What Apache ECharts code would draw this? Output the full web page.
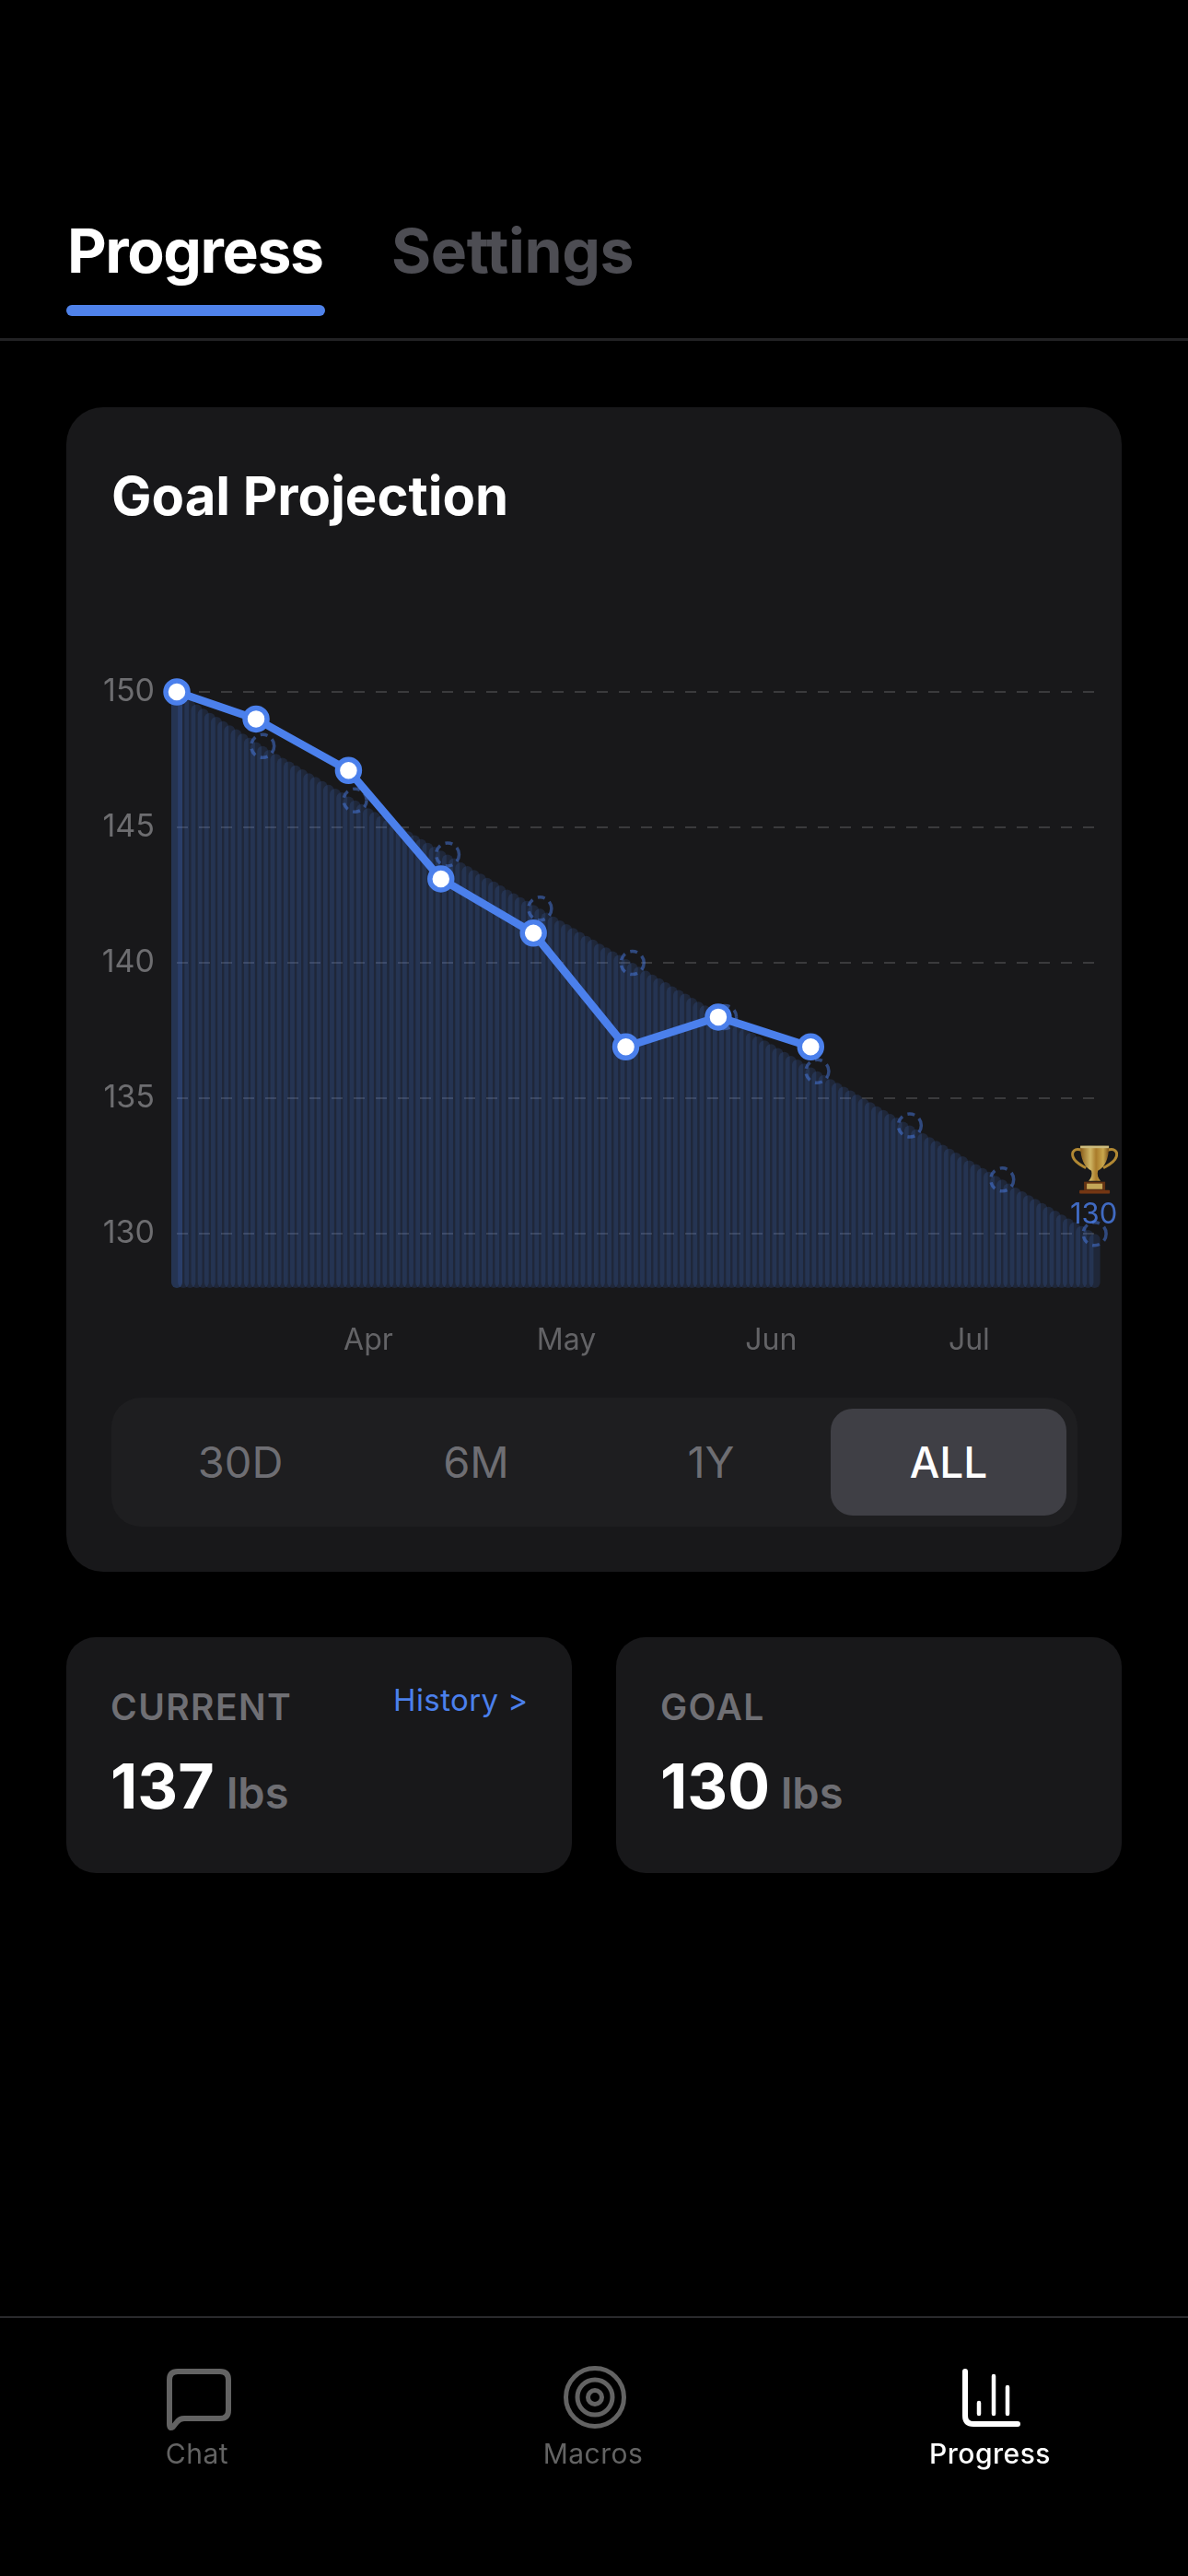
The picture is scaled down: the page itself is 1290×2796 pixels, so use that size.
<!DOCTYPE html>
<html>
<head>
<meta charset="utf-8">
<title>Goal Projection</title>
<script src="https://cdn.jsdelivr.net/npm/echarts@6/dist/echarts.min.js"></script>
<style>
    html, body { margin: 0; padding: 0; background: #000; }
    body { position: relative; width: 1290px; height: 2796px; overflow: hidden; font-family: Inter, "Noto Sans", sans-serif; }
    .box { position: absolute; }
    .t { position: absolute; line-height: 1; white-space: nowrap; }
    .c { transform: translateX(-50%); }
    svg { position: absolute; left: 0; top: 0; }
</style>
</head>
<body>
<!-- top tabs -->
<div class="t" style="left:73px;top:239px;font-size:66px;font-weight:700;color:#fff;letter-spacing:-1.4px">Progress</div>
<div class="t" style="left:425px;top:239px;font-size:66px;font-weight:700;color:#4d4d53;letter-spacing:-.4px">Settings</div>
<div class="box" style="left:72px;top:331px;width:281px;height:12px;border-radius:6px;background:#4f82ea"></div>
<div class="box" style="left:0;top:367px;width:1290px;height:3px;background:#222224"></div>

<!-- main card -->
<div class="box" style="left:72px;top:442px;width:1146px;height:1264px;border-radius:40px;background:#18181a"></div>
<div id="chart" class="box" style="left:72px;top:442px;width:1146px;height:1060px"></div>

<!-- range selector -->
<div class="box" style="left:121px;top:1517px;width:1049px;height:140px;border-radius:32px;background:#1e1e20"></div>
<div class="box" style="left:902px;top:1529px;width:256px;height:116px;border-radius:24px;background:#3f3f45"></div>
<div class="t c" style="left:261px;top:1563px;font-size:47px;color:#6e6e73">30D</div>
<div class="t c" style="left:517px;top:1563px;font-size:47px;color:#6e6e73">6M</div>
<div class="t c" style="left:772px;top:1563px;font-size:47px;color:#6e6e73">1Y</div>
<div class="t c" style="left:1030px;top:1564px;font-size:46px;font-weight:500;color:#fff">ALL</div>

<!-- stat cards -->
<div class="box" style="left:72px;top:1777px;width:549px;height:256px;border-radius:32px;background:#18181a"></div>
<div class="box" style="left:669px;top:1777px;width:549px;height:256px;border-radius:32px;background:#18181a"></div>
<div class="t" style="left:120px;top:1833px;font-size:39px;font-weight:600;color:#6f6f74;letter-spacing:1.4px">CURRENT</div>
<div class="t" style="left:427px;top:1829px;font-size:33px;color:#4b80ec;letter-spacing:.4px">History &gt;</div>
<div class="t" style="left:120px;top:1904px;font-size:68px;font-weight:700;color:#fff">137</div>
<div class="t" style="left:246px;top:1922px;font-size:47px;font-weight:600;color:#6e6e73">lbs</div>
<div class="t" style="left:717px;top:1833px;font-size:39px;font-weight:600;color:#6f6f74;letter-spacing:1.4px">GOAL</div>
<div class="t" style="left:717px;top:1904px;font-size:68px;font-weight:700;color:#fff">130</div>
<div class="t" style="left:848px;top:1922px;font-size:47px;font-weight:600;color:#6e6e73">lbs</div>

<!-- bottom nav -->
<div class="box" style="left:0;top:2514px;width:1290px;height:2px;background:#2a2a2c"></div>
<svg width="1290" height="2796" fill="none">
    <path d="M193 2574 H239 Q248 2574 248 2583 V2616 Q248 2625 239 2625 H200 Q195 2625 192 2629 L188 2634 Q184 2637 184 2631 V2583 Q184 2574 193 2574 Z" stroke="#636363" stroke-width="6" stroke-linejoin="round"/>
    <circle cx="646" cy="2602" r="31.5" stroke="#636363" stroke-width="5"/>
    <circle cx="646" cy="2602" r="19" stroke="#636363" stroke-width="5"/>
    <circle cx="646" cy="2602" r="7.5" stroke="#636363" stroke-width="5"/>
    <path d="M1048 2574 V2622 Q1048 2631 1057 2631 H1105" stroke="#fff" stroke-width="6" stroke-linecap="round"/>
    <path d="M1063 2608 V2620 M1079 2579 V2620 M1094 2591 V2620" stroke="#fff" stroke-width="4.5" stroke-linecap="round"/>
</svg>
<div class="t c" style="left:214px;top:2648px;font-size:30px;color:#636363;letter-spacing:.5px">Chat</div>
<div class="t c" style="left:644px;top:2648px;font-size:30px;color:#636363;letter-spacing:.5px">Macros</div>
<div class="t c" style="left:1075px;top:2648px;font-size:30px;font-weight:500;color:#fff;letter-spacing:.5px">Progress</div>

<script>
// 数据
var yTicks = [130, 135, 140, 145, 150];
var monthDays = [29, 59, 90, 120];
var monthNames = ['Apr', 'May', 'Jun', 'Jul'];

// 实际体重
var actualDays = [0, 12, 26, 40, 54, 68, 82, 96];
var actualWeights = [150, 149, 147.1, 143.1, 141.1, 136.9, 138, 136.9];

// 预测点（虚线圆）
var projectionDays = [0, 13, 27, 41, 55, 69, 83, 97, 111, 125, 139];
var projectionWeights = [150, 148, 146, 144, 142, 140, 138, 136, 134, 132, 130];

// 每天一根柱子，第0天有两根叠在一起
var barDays = [0, 0, 1, 2, 3, 4, 5, 6, 7, 8, 9, 10, 11, 12, 13,
    14, 15, 16, 17, 18, 19, 20, 21, 22, 23, 24, 25, 26, 27,
    28, 29, 30, 31, 32, 33, 34, 35, 36, 37, 38, 39, 40, 41,
    42, 43, 44, 45, 46, 47, 48, 49, 50, 51, 52, 53, 54, 55,
    56, 57, 58, 59, 60, 61, 62, 63, 64, 65, 66, 67, 68, 69,
    70, 71, 72, 73, 74, 75, 76, 77, 78, 79, 80, 81, 82, 83,
    84, 85, 86, 87, 88, 89, 90, 91, 92, 93, 94, 95, 96, 97,
    98, 99, 100, 101, 102, 103, 104, 105, 106, 107, 108, 109, 110, 111,
    112, 113, 114, 115, 116, 117, 118, 119, 120, 121, 122, 123, 124, 125,
    126, 127, 128, 129, 130, 131, 132, 133, 134, 135, 136, 137, 138, 139];
var barValues = [150, 150, 149.85, 149.69, 149.54, 149.38, 149.23, 149.08, 148.92, 148.77, 148.62, 148.46, 148.31, 148.15, 148,
    147.86, 147.71, 147.57, 147.43, 147.29, 147.14, 147, 146.86, 146.71, 146.57, 146.43, 146.29, 146.14, 146,
    145.86, 145.71, 145.57, 145.43, 145.29, 145.14, 145, 144.86, 144.71, 144.57, 144.43, 144.29, 144.14, 144,
    143.86, 143.71, 143.57, 143.43, 143.29, 143.14, 143, 142.86, 142.71, 142.57, 142.43, 142.29, 142.14, 142,
    141.86, 141.71, 141.57, 141.43, 141.29, 141.14, 141, 140.86, 140.71, 140.57, 140.43, 140.29, 140.14, 140,
    139.86, 139.71, 139.57, 139.43, 139.29, 139.14, 139, 138.86, 138.71, 138.57, 138.43, 138.29, 138.14, 138,
    137.86, 137.71, 137.57, 137.43, 137.29, 137.14, 137, 136.86, 136.71, 136.57, 136.43, 136.29, 136.14, 136,
    135.86, 135.71, 135.57, 135.43, 135.29, 135.14, 135, 134.86, 134.71, 134.57, 134.43, 134.29, 134.14, 134,
    133.86, 133.71, 133.57, 133.43, 133.29, 133.14, 133, 132.86, 132.71, 132.57, 132.43, 132.29, 132.14, 132,
    131.86, 131.71, 131.57, 131.43, 131.29, 131.14, 131, 130.86, 130.71, 130.57, 130.43, 130.29, 130.14, 130];

function pairs(xs, ys) {
    return xs.map(function (x, i) { return [x, ys[i]]; });
}

// 奖杯图标（没有彩色 emoji 字体，用 svg 画）
var trophySvg = '<svg xmlns="http://www.w3.org/2000/svg" viewBox="0 0 51 53">' +
    '<defs><linearGradient id="g" x1="0" x2="1" y1="0" y2="0">' +
    '<stop offset="0" stop-color="#a8701a"/><stop offset=".35" stop-color="#ffdf78"/>' +
    '<stop offset=".55" stop-color="#cf9630"/><stop offset=".8" stop-color="#f6cc5a"/><stop offset="1" stop-color="#96621a"/></linearGradient></defs>' +
    '<path d="M12 6 C4 3 0 7 2 13 C4 19 11 22 16 25" fill="none" stroke="#d9a63a" stroke-width="3"/>' +
    '<path d="M39 6 C47 3 51 7 49 13 C47 19 40 22 35 25" fill="none" stroke="#d9a63a" stroke-width="3"/>' +
    '<path d="M10 1 H41 C41 14 37 24 29 28 C28 32 29 36 32 39 H19 C22 36 23 32 22 28 C14 24 10 14 10 1 Z" fill="url(#g)"/>' +
    '<rect x="10" y="1" width="31" height="2.5" fill="#fbe596"/>' +
    '<rect x="14" y="40" width="23" height="9" fill="#7a3d12"/><rect x="17" y="42" width="17" height="6" fill="#efcc68"/>' +
    '<rect x="9" y="49" width="33" height="4" rx="1" fill="#8c3f12"/></svg>';

var blue = '#4b80ec';
var gridLeft = 120, gridTop = 309, gridWidth = 996.6, gridHeight = 647;

var myChart = echarts.init(document.getElementById('chart'));
var option = {
    animation: false,
    title: {
        text: 'Goal Projection',
        left: 49,
        top: 71,
        padding: 0,
        textStyle: { color: '#fff', fontFamily: 'Inter', fontSize: 58, fontWeight: 700 }
    },
    grid: { left: gridLeft, top: gridTop, width: gridWidth, height: gridHeight },
    xAxis: {
        type: 'value',
        min: 0,
        max: 139,
        axisLine: { show: false },
        axisTick: { show: false, customValues: monthDays },
        splitLine: { show: false },
        axisLabel: {
            customValues: monthDays,
            color: '#636366',
            fontFamily: 'Inter',
            fontSize: 32,
            margin: 41,
            formatter: function (v) { return monthNames[monthDays.indexOf(v)]; }
        }
    },
    yAxis: {
        type: 'value',
        min: 128,
        max: 150,
        startValue: 128,
        axisLine: { show: false },
        axisTick: { show: false, customValues: yTicks },
        axisLabel: { customValues: yTicks, color: '#6d6d70', fontFamily: 'Inter', fontSize: 34, margin: 24, padding: [6, 0, 0, 0] },
        splitLine: { lineStyle: { color: '#3a3a3c', width: 2, type: [12, 12] } }
    },
    series: [
        {
            name: 'daily',
            type: 'bar',
            clip: false,
            barWidth: 12,
            data: pairs(barDays, barValues),
            itemStyle: { color: 'rgba(75,128,236,0.15)', borderRadius: 6 },
            z: 2
        },
        {
            name: 'projection',
            type: 'scatter',
            clip: false,
            symbolSize: 25,
            data: pairs(projectionDays, projectionWeights),
            itemStyle: {
                color: 'rgba(0,0,0,0)',
                borderColor: 'rgba(75,128,236,0.6)',
                borderWidth: 3.5,
                borderType: [8, 6]
            },
            z: 3
        },
        {
            // 终点的奖杯和 130
            name: 'goal',
            type: 'scatter',
            clip: false,
            symbol: 'image://data:image/svg+xml;charset=utf-8,' + encodeURIComponent(trophySvg),
            symbolSize: [51, 53],
            symbolOffset: [0, -70],
            data: [[projectionDays[10], projectionWeights[10]]],
            label: {
                show: true,
                position: 'inside',
                offset: [-1, 50],
                color: blue,
                fontFamily: 'Inter',
                fontSize: 31,
                formatter: '130'
            },
            z: 4
        },
        {
            name: 'actual',
            type: 'line',
            clip: false,
            data: pairs(actualDays, actualWeights),
            symbol: 'circle',
            symbolSize: 24,
            showAllSymbol: true,
            lineStyle: { color: blue, width: 8.5 },
            itemStyle: { color: '#fff', borderColor: blue, borderWidth: 5.5 },
            z: 5
        }
    ]
};
myChart.setOption(option);
</script>
</body>
</html>
